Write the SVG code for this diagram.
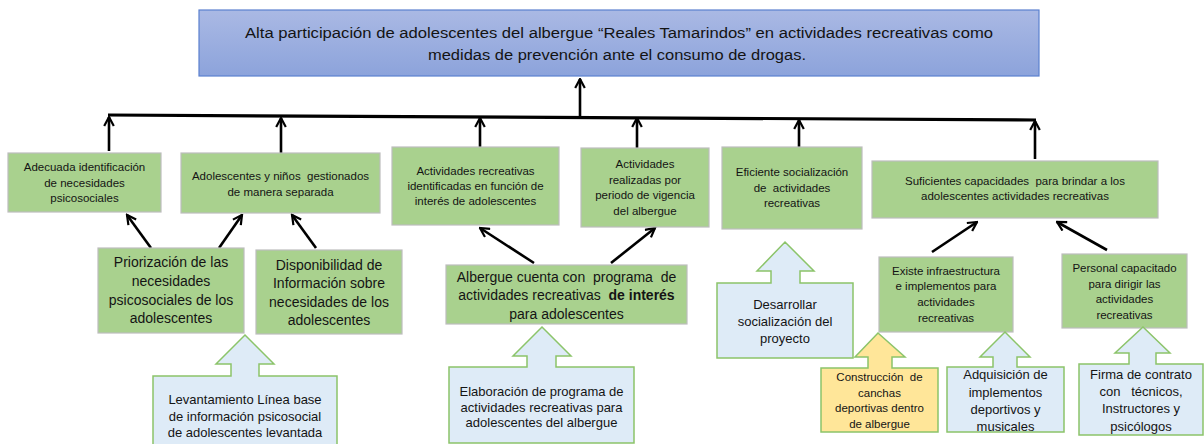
<svg xmlns="http://www.w3.org/2000/svg" width="1204" height="444" viewBox="0 0 1204 444">
<defs>
<linearGradient id="gTop" x1="0" y1="0" x2="0" y2="1">
<stop offset="0" stop-color="#AAB9E4"/>
<stop offset="1" stop-color="#8CA3DB"/>
</linearGradient>
<marker id="ah" viewBox="0 0 12 12" refX="10.5" refY="6" markerWidth="12" markerHeight="12" markerUnits="userSpaceOnUse" orient="auto">
<path d="M1.5,1.2 L10.5,6 L1.5,10.8" fill="none" stroke="#000" stroke-width="2.2" stroke-linejoin="miter"/>
</marker>
<style>
text{font-family:"Liberation Sans",Arial,sans-serif;fill:#141414;text-anchor:middle}
.gb{fill:#A9D18E;stroke:#BDBDBD;stroke-width:1.2}
.ba{fill:#DEEBF7;stroke:#8CC46A;stroke-width:1.5}
.ya{fill:#FFE699;stroke:#8CC46A;stroke-width:1.5}
.s{font-size:11.5px}
.m{font-size:13px}
.l{font-size:14px}
.ln{stroke:#000;stroke-width:2.6;fill:none;marker-end:url(#ah)}
</style>
</defs>
<rect width="1204" height="444" fill="#fff"/>

<g id="top">
<rect x="199" y="10" width="840" height="66" fill="url(#gTop)" stroke="#5B80CF" stroke-width="1.2"/>
<text x="619" y="38" style="font-size:15.5px" textLength="748" lengthAdjust="spacingAndGlyphs">Alta participación de adolescentes del albergue “Reales Tamarindos” en actividades recreativas como</text>
<text x="617" y="60" style="font-size:15.5px" textLength="378" lengthAdjust="spacingAndGlyphs">medidas de prevención ante el consumo de drogas.</text>
</g>

<g id="connectors">
<path d="M108,115 L1036,120" stroke="#000" stroke-width="3.2" fill="none"/>
<path class="ln" d="M580,117 L580,79"/>
<path class="ln" d="M109,151 L109,117"/>
<path class="ln" d="M281,153 L281,118"/>
<path class="ln" d="M480,147 L480,118"/>
<path class="ln" d="M637,148 L637,118"/>
<path class="ln" d="M799,147 L799,120"/>
<path class="ln" d="M1035,159 L1035,121"/>
<path class="ln" d="M151,248 L127,215"/>
<path class="ln" d="M219,248 L242,215"/>
<path class="ln" d="M316,248 L292,215"/>
<path class="ln" d="M534,263 L480,228"/>
<path class="ln" d="M611,263 L655,228"/>
<path class="ln" d="M932,252 L977,222"/>
<path class="ln" d="M1107,250 L1057,222"/>
</g>

<g id="n1">
<rect class="gb" x="8" y="153" width="153" height="59"/>
<text class="s" x="84.5" y="171">Adecuada identificación</text>
<text class="s" x="84.5" y="186.5">de necesidades</text>
<text class="s" x="84.5" y="202">psicosociales</text>
</g>
<g id="n2">
<rect class="gb" x="181" y="153" width="199" height="60"/>
<text class="s" x="280.5" y="180" xml:space="preserve">Adolescentes y niños  gestionados</text>
<text class="s" x="280.5" y="196">de manera separada</text>
</g>
<g id="n3">
<rect class="gb" x="98" y="248" width="146" height="85"/>
<text class="l" x="171" y="267">Priorización de las</text>
<text class="l" x="171" y="286">necesidades</text>
<text class="l" x="171" y="305">psicosociales de los</text>
<text class="l" x="171" y="323">adolescentes</text>
</g>
<g id="n4">
<rect class="gb" x="256" y="250" width="146" height="84"/>
<text class="l" x="329" y="270">Disponibilidad de</text>
<text class="l" x="329" y="288">Información sobre</text>
<text class="l" x="329" y="307">necesidades de los</text>
<text class="l" x="329" y="325">adolescentes</text>
</g>
<g id="n5">
<rect class="gb" x="392" y="147" width="167" height="78"/>
<text class="s" x="475.5" y="175">Actividades recreativas</text>
<text class="s" x="475.5" y="190">identificadas en función de</text>
<text class="s" x="475.5" y="205">interés de adolescentes</text>
</g>
<g id="n6">
<rect class="gb" x="581" y="148" width="128" height="79"/>
<text class="s" x="645" y="168">Actividades</text>
<text class="s" x="645" y="184">realizadas por</text>
<text class="s" x="645" y="199">periodo de vigencia</text>
<text class="s" x="645" y="215">del albergue</text>
</g>
<g id="n7">
<rect class="gb" x="446" y="265" width="241" height="59"/>
<text class="l" x="566.5" y="282" xml:space="preserve">Albergue cuenta con  programa  de</text>
<text class="l" x="566.5" y="300" xml:space="preserve">actividades recreativas  <tspan font-weight="bold">de interés</tspan></text>
<text class="l" x="566.5" y="319">para adolescentes</text>
</g>
<g id="n8">
<rect class="gb" x="722" y="147" width="140" height="82"/>
<text class="s" x="792" y="176">Eficiente socialización</text>
<text class="s" x="792" y="192" xml:space="preserve">de  actividades</text>
<text class="s" x="792" y="207">recreativas</text>
</g>
<g id="n9">
<rect class="gb" x="872" y="161" width="286" height="57"/>
<text class="s" x="1015" y="185" xml:space="preserve">Suficientes capacidades  para brindar a los</text>
<text class="s" x="1015" y="200">adolescentes actividades recreativas</text>
</g>
<g id="n10">
<rect class="gb" x="879" y="257" width="134" height="75"/>
<text class="s" x="946" y="275">Existe infraestructura</text>
<text class="s" x="946" y="290">e implementos para</text>
<text class="s" x="946" y="306">actividades</text>
<text class="s" x="946" y="322">recreativas</text>
</g>
<g id="n11">
<rect class="gb" x="1062" y="254" width="125" height="74"/>
<text class="s" x="1124.5" y="272">Personal capacitado</text>
<text class="s" x="1124.5" y="288">para dirigir las</text>
<text class="s" x="1124.5" y="303">actividades</text>
<text class="s" x="1124.5" y="319">recreativas</text>
</g>

<g id="n12">
<path class="ba" d="M785,242 L814,271 L800,271 L800,283 L853,283 L853,358 L717,358 L717,283 L771,283 L771,271 L757,271 Z"/>
<text class="m" x="785" y="309">Desarrollar</text>
<text class="m" x="785" y="326">socialización del</text>
<text class="m" x="785" y="343">proyecto</text>
</g>
<g id="n13">
<path class="ba" d="M245,335 L274,364 L259,364 L259,376 L337,376 L337,446 L153,446 L153,376 L231,376 L231,364 L216,364 Z"/>
<text class="m" x="245" y="404">Levantamiento Línea base</text>
<text class="m" x="245" y="420.5">de información psicosocial</text>
<text class="m" x="245" y="437">de adolescentes levantada</text>
</g>
<g id="n14">
<path class="ba" d="M542,327 L571,356 L556,356 L556,367 L634,367 L634,443 L449,443 L449,367 L527,367 L527,356 L513,356 Z"/>
<text class="m" x="541.5" y="396">Elaboración de programa de</text>
<text class="m" x="541.5" y="411.5">actividades recreativas para</text>
<text class="m" x="541.5" y="427">adolescentes del albergue</text>
</g>
<g id="n15">
<path class="ya" d="M878,333 L905,357 L892,357 L892,368 L938,368 L938,432 L821,432 L821,368 L868,368 L868,357 L855,357 Z"/>
<text class="s" x="879.5" y="381" xml:space="preserve">Construcción  de</text>
<text class="s" x="879.5" y="396.5">canchas</text>
<text class="s" x="879.5" y="412">deportivas dentro</text>
<text class="s" x="879.5" y="427.5">de albergue</text>
</g>
<g id="n16">
<path class="ba" d="M1005,332 L1030,357 L1017,357 L1017,367 L1064,367 L1064,432 L947,432 L947,367 L993,367 L993,357 L980,357 Z"/>
<text class="m" x="1005.5" y="379">Adquisición de</text>
<text class="m" x="1005.5" y="397">implementos</text>
<text class="m" x="1005.5" y="414">deportivos y</text>
<text class="m" x="1005.5" y="431">musicales</text>
</g>
<g id="n17">
<path class="ba" d="M1143,327 L1170,353 L1156,353 L1156,364 L1203,364 L1203,435 L1079,435 L1079,364 L1129,364 L1129,353 L1115,353 Z"/>
<text class="m" x="1141" y="379">Firma de contrato</text>
<text class="m" x="1141" y="396" xml:space="preserve">con   técnicos,</text>
<text class="m" x="1141" y="413">Instructores y</text>
<text class="m" x="1141" y="431">psicólogos</text>
</g>
</svg>
